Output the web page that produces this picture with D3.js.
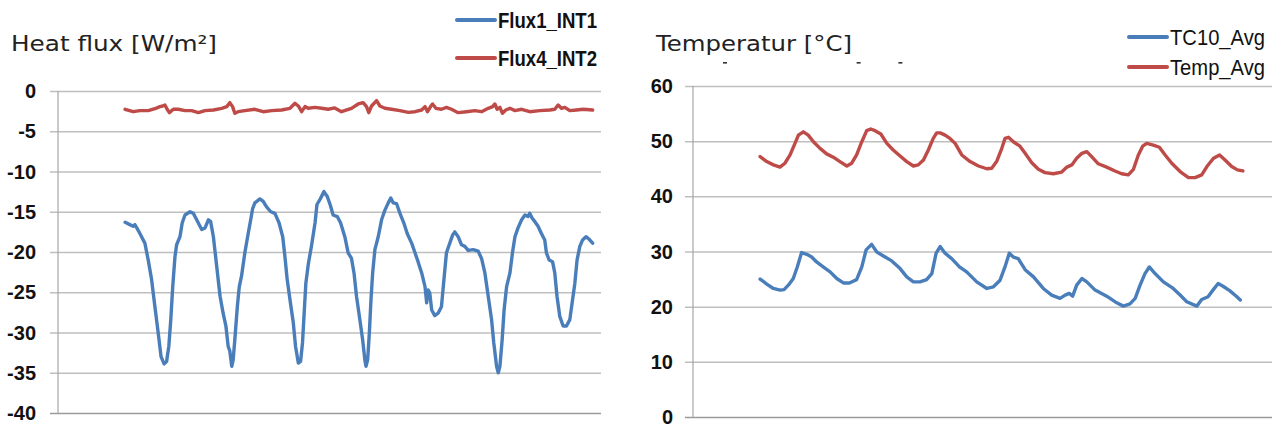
<!DOCTYPE html>
<html>
<head>
<meta charset="utf-8">
<script src="https://cdn.jsdelivr.net/npm/d3@7"></script>
<style>
  html, body { margin: 0; padding: 0; background: #fff; }
  svg { display: block; }
</style>
</head>
<body>
<svg id="chart" width="1282" height="428"></svg>
<script>
// ---- Heat flux panel: [hour, W/m²] ----
const flux1 = [[24.1,-16.3],[25.8,-16.6],[27.0,-16.8],[27.6,-16.6],[28.3,-17.0],[29.4,-17.7],[31.2,-18.9],[32.4,-21],[33.6,-23.4],[34.8,-26.8],[36.0,-30.1],[37.0,-33],[38.1,-33.9],[39.0,-33.6],[39.8,-31.7],[40.5,-28.4],[41.2,-24.3],[42.0,-20.6],[42.6,-19.1],[43.8,-18.1],[44.6,-16.4],[45.6,-15.4],[47.4,-15.0],[48.6,-15.2],[49.8,-16],[51.6,-17.2],[52.8,-17.0],[54.0,-16],[54.8,-16.2],[55.8,-18.1],[57.0,-21.8],[58.2,-25.5],[59.3,-27.6],[60.3,-29.2],[61.1,-31.7],[61.7,-32.3],[62.4,-34.2],[62.9,-33.4],[63.5,-30.9],[64.4,-26.8],[65.1,-24.3],[65.9,-23],[67.1,-20.1],[68.3,-17.7],[69.2,-16],[69.9,-14.6],[70.7,-13.9],[72.5,-13.4],[73.7,-13.7],[74.9,-14.4],[76.4,-15.0],[77.9,-15.2],[79.4,-16.4],[80.7,-18.1],[81.5,-20.6],[82.3,-23.4],[83.3,-25.9],[84.5,-28.8],[85.3,-31.7],[86.3,-33.8],[87.1,-33.6],[87.8,-31.3],[88.4,-27.6],[89.0,-23.9],[89.9,-21.5],[91.1,-19.1],[92.3,-16.4],[93.0,-14.1],[94.2,-13.4],[95.5,-12.5],[96.7,-13.1],[97.8,-14.2],[98.8,-15.4],[100.3,-15.6],[101.5,-16.4],[103.0,-18.1],[104.2,-20.1],[105.4,-20.8],[106.3,-22.6],[107.2,-25.5],[108.4,-28.4],[109.4,-30.9],[110.2,-33.4],[110.6,-34.2],[111.2,-33.4],[111.8,-30.1],[112.4,-25.9],[113.0,-22.6],[113.8,-19.7],[115.0,-18.1],[116.2,-16],[117.4,-14.8],[118.6,-13.9],[119.5,-13.3],[120.4,-13.9],[121.6,-14.0],[122.8,-15.2],[124.2,-16.4],[125.4,-17.7],[127.0,-18.9],[128.2,-20.1],[129.3,-21.2],[130.6,-22.6],[131.8,-24.3],[132.4,-26.3],[132.9,-24.7],[133.5,-25.1],[134.2,-27.2],[135.3,-27.9],[136.5,-27.6],[137.7,-26.8],[138.6,-23.4],[139.5,-20.1],[140.7,-18.9],[141.7,-17.9],[142.5,-17.5],[143.7,-18.1],[144.9,-19.1],[146.1,-19.3],[147.3,-19.8],[149.1,-19.7],[150.9,-19.9],[152.1,-20.8],[153.3,-22.6],[154.5,-25.5],[155.7,-28.4],[156.5,-31.3],[157.5,-34.2],[158.1,-35.0],[158.7,-34.2],[159.5,-30.9],[160.2,-27.2],[161.1,-24.3],[162.3,-22.6],[163.2,-20.1],[164.1,-18.1],[165.2,-17.0],[166.5,-16],[167.7,-15.4],[168.8,-15.6],[169.4,-15.2],[170.3,-15.8],[171.2,-16.2],[172.4,-16.8],[173.6,-17.7],[174.8,-18.5],[175.4,-20.1],[176.4,-21],[177.6,-21.2],[178.4,-22.6],[179.2,-25.5],[180.2,-28],[181.4,-29.2],[182.6,-29.2],[183.8,-28.4],[184.8,-25.9],[185.6,-23.9],[186.4,-21],[187.4,-19.3],[188.4,-18.5],[189.6,-18.1],[190.7,-18.4],[192.0,-18.9]];

const flux4 = [[24.1,-2.27],[27.0,-2.57],[29.4,-2.44],[32.4,-2.44],[34.8,-2.2],[36.6,-1.94],[37.6,-1.86],[38.4,-1.74],[39.2,-2.27],[40.0,-2.69],[41.4,-2.27],[43.2,-2.27],[45.6,-2.44],[48.0,-2.44],[50.4,-2.69],[52.8,-2.44],[55.8,-2.36],[58.8,-2.15],[60.6,-1.94],[61.7,-1.45],[62.7,-1.94],[63.5,-2.77],[64.7,-2.57],[67.1,-2.44],[70.7,-2.27],[73.7,-2.57],[76.7,-2.44],[80.3,-2.36],[83.3,-2.15],[85.1,-1.53],[86.3,-1.86],[87.5,-2.57],[88.7,-1.94],[89.9,-2.15],[92.3,-2.03],[94.7,-2.15],[97.0,-2.27],[99.4,-2.1],[101.8,-2.57],[105.4,-2.15],[107.8,-1.61],[109.6,-1.45],[110.8,-1.94],[111.6,-2.69],[112.6,-1.86],[114.4,-1.20],[115.6,-1.86],[117.4,-2.15],[119.8,-2.27],[122.8,-2.44],[125.8,-2.65],[128.2,-2.57],[130.6,-2.36],[131.8,-1.94],[132.7,-2.57],[133.8,-1.94],[134.5,-1.61],[135.7,-2.15],[137.7,-2.27],[139.5,-2.03],[141.3,-2.27],[143.7,-2.69],[146.7,-2.57],[149.7,-2.44],[152.1,-2.57],[154.5,-2.15],[156.1,-1.94],[156.9,-1.61],[157.7,-2.27],[158.7,-2.03],[159.6,-2.77],[160.8,-2.36],[162.3,-2.15],[164.1,-2.44],[166.5,-2.27],[169.4,-2.57],[173.0,-2.44],[176.6,-2.36],[178.4,-2.27],[179.6,-1.74],[180.8,-2.15],[182.0,-2.03],[183.8,-2.44],[186.2,-2.36],[188.6,-2.27],[192.0,-2.36]];

const fluxTicks = [0, -5, -10, -15, -20, -25, -30, -35, -40];
const fluxNames = ["Flux1_INT1", "Flux4_INT2"];

// ---- Temperature panel: [hour, °C] ----
const tc10 = [[23.3,25.0],[25.6,24.1],[27.9,23.3],[30.2,23.0],[31.6,23.1],[33.1,23.9],[34.8,25.1],[36.2,27.2],[37.7,29.8],[39.5,29.5],[41.2,29.0],[42.9,28.1],[45.2,27.2],[47.6,26.3],[49.9,25.1],[52.2,24.3],[54.3,24.3],[56.8,24.9],[58.6,27.2],[60.1,30.3],[62.0,31.3],[63.8,29.9],[66.1,29.2],[69.0,28.3],[71.9,26.9],[74.2,25.4],[76.5,24.5],[78.8,24.5],[81.1,24.9],[82.9,26.0],[84.4,29.7],[85.8,30.9],[87.5,29.7],[89.8,28.7],[92.5,27.2],[95.0,26.3],[98.5,24.5],[102.0,23.3],[104.3,23.6],[106.6,24.8],[108.3,27.2],[109.8,29.7],[111.2,29.0],[112.9,28.7],[115.3,26.7],[118.2,25.4],[121.6,23.3],[124.5,22.1],[127.4,21.5],[129.2,22.1],[130.6,22.4],[131.8,21.9],[133.2,23.9],[135.0,25.1],[136.7,24.5],[139.6,23.0],[143.6,21.9],[147.1,20.7],[149.4,20.1],[151.7,20.5],[153.5,21.5],[155.2,23.9],[156.9,26.0],[158.4,27.2],[160.4,26.0],[163.3,24.5],[166.7,23.3],[169.1,22.1],[171.4,20.9],[174.9,20.1],[176.6,21.3],[178.8,21.8],[180.5,23.0],[182.3,24.2],[184.0,23.7],[186.3,22.9],[188.6,21.9],[190.0,21.2]];

const tempAvg = [[23.3,47.2],[25.6,46.3],[27.9,45.7],[30.2,45.3],[31.9,46.0],[33.7,47.5],[35.4,49.6],[36.6,51.1],[38.3,51.7],[40.0,51.1],[41.8,49.9],[44.1,48.7],[46.4,47.7],[48.7,47.1],[51.0,46.3],[53.4,45.5],[55.1,46.0],[56.8,47.5],[58.6,49.9],[60.3,51.9],[61.7,52.2],[63.2,51.9],[65.2,51.3],[67.3,49.6],[69.5,48.4],[71.9,47.3],[74.2,46.3],[76.5,45.5],[78.2,45.7],[80.0,46.6],[81.7,48.4],[83.4,50.5],[84.6,51.5],[85.8,51.5],[87.5,51.1],[89.2,50.5],[91.0,49.6],[93.3,47.5],[96.2,46.3],[99.1,45.5],[102.0,45.0],[103.7,45.1],[105.4,46.3],[107.2,48.7],[108.3,50.5],[109.5,50.7],[111.2,49.9],[113.5,49.1],[115.3,47.8],[117.6,46.1],[119.9,44.9],[122.2,44.3],[125.1,44.1],[128.0,44.4],[129.8,45.3],[131.5,45.7],[133.2,46.9],[135.0,47.8],[136.7,48.1],[138.4,47.2],[140.7,45.9],[143.6,45.3],[146.5,44.6],[148.8,44.1],[151.1,43.9],[152.9,44.9],[154.6,47.5],[156.1,49.1],[157.5,49.6],[159.8,49.3],[161.9,48.9],[163.9,47.5],[166.2,46.0],[169.1,44.5],[172.0,43.4],[174.3,43.4],[176.6,43.9],[178.4,45.4],[180.7,46.9],[182.8,47.5],[184.7,46.6],[187.0,45.4],[189.0,44.8],[190.9,44.6]];

const tempTicks = [0, 10, 20, 30, 40, 50, 60];
const tempNames = ["TC10_Avg", "Temp_Avg"];

// hours at which small dash marks sit above the temperature plot
const tempDashHours = [11.1, 57.5, 72];

const BLUE = "#4a7ebb";
const RED = "#be4b48";
const GRID = "#bfbfbf";
const AXIS = "#a6a6a6";

const svg = d3.select("#chart");

function panel(cfg) {
  const g = svg.append("g");
  const x = d3.scaleLinear().domain(cfg.xDomain).range([cfg.left, cfg.right]);
  const y = d3.scaleLinear().domain(cfg.yDomain).range([cfg.bottom, cfg.top]);

  // horizontal gridlines + tick marks via a left axis
  const axis = d3.axisLeft(y).tickValues(cfg.ticks).tickSize(cfg.left - cfg.right).tickPadding(0);
  const ag = g.append("g").attr("transform", `translate(${cfg.left},0)`).call(axis);
  ag.select(".domain").remove();
  ag.selectAll(".tick line").attr("stroke", GRID).attr("stroke-width", 1.5)
    .attr("x1", -8).attr("x2", cfg.right - cfg.left);
  ag.selectAll(".tick text").remove();
  ag.selectAll(".tick").filter(d => d === cfg.yDomain[0])
    .select("line").attr("stroke", "#9a9a9a");

  // tick labels
  g.selectAll("text.ylab").data(cfg.ticks).join("text")
    .attr("class", "ylab")
    .attr("x", cfg.labelRight)
    .attr("y", d => y(d) + 7)
    .attr("text-anchor", "end")
    .attr("font-family", "'Liberation Sans', Arial, sans-serif")
    .attr("font-weight", "bold")
    .attr("font-size", 20)
    .attr("fill", "#111")
    .text(d => d);

  // vertical axis line
  g.append("line")
    .attr("x1", cfg.left).attr("x2", cfg.left)
    .attr("y1", y(cfg.yDomain[1])).attr("y2", y(cfg.yDomain[0]))
    .attr("stroke", AXIS).attr("stroke-width", 1.2);

  const line = d3.line().x(d => x(d[0])).y(d => y(d[1])).curve(d3.curveLinear);
  cfg.series.forEach(s => {
    g.append("path").datum(s.data)
      .attr("fill", "none")
      .attr("stroke", s.color)
      .attr("stroke-width", 3.4)
      .attr("stroke-linejoin", "round")
      .attr("stroke-linecap", "round")
      .attr("d", line);
  });

  // title
  g.append("text")
    .attr("x", cfg.titleX).attr("y", 51)
    .attr("font-family", "'DejaVu Sans', Verdana, sans-serif")
    .attr("font-size", 21)
    .attr("fill", "#222")
    .attr("textLength", cfg.titleLen)
    .attr("lengthAdjust", "spacingAndGlyphs")
    .text(cfg.title);

  // legend
  cfg.series.forEach((s, i) => {
    const ly = cfg.legendY[i];
    g.append("line")
      .attr("x1", cfg.legendX).attr("x2", cfg.legendX + cfg.legendLen)
      .attr("y1", ly).attr("y2", ly)
      .attr("stroke", s.color).attr("stroke-width", 4).attr("stroke-linecap", "round");
    g.append("text")
      .attr("x", cfg.legendX + cfg.legendLen + 3).attr("y", ly + 8)
      .attr("font-family", "'Liberation Sans Narrow', 'Liberation Sans', Arial, sans-serif")
      .attr("font-weight", cfg.legendWeight)
      .attr("font-size", 22)
      .attr("fill", "#111")
      .attr("textLength", cfg.legendTextLen)
      .attr("lengthAdjust", "spacingAndGlyphs")
      .text(s.name);
  });
  return { g, x, y };
}

panel({
  left: 58, right: 601, top: 91, bottom: 413,
  xDomain: [0, 195], yDomain: [-40, 0], ticks: fluxTicks, labelRight: 36,
  title: "Heat flux [W/m²]", titleX: 11, titleLen: 206,
  legendX: 457, legendLen: 38, legendY: [20, 58], legendTextLen: 99, legendWeight: "bold",
  series: [
    { name: fluxNames[0], data: flux1, color: BLUE },
    { name: fluxNames[1], data: flux4, color: RED }
  ]
});

const tp = panel({
  left: 693, right: 1272, top: 86, bottom: 417,
  xDomain: [0, 201], yDomain: [0, 60], ticks: tempTicks, labelRight: 673,
  title: "Temperatur [°C]", titleX: 656, titleLen: 196,
  legendX: 1129, legendLen: 38, legendY: [37, 67], legendTextLen: 95, legendWeight: "normal",
  series: [
    { name: tempNames[0], data: tc10, color: BLUE },
    { name: tempNames[1], data: tempAvg, color: RED }
  ]
});

// small dash marks above the temperature plot
tp.g.selectAll("rect.dash").data(tempDashHours).join("rect")
  .attr("class", "dash")
  .attr("x", d => tp.x(d) - 2).attr("y", 62)
  .attr("width", 4).attr("height", 1.6)
  .attr("fill", "#333");
</script>
</body>
</html>
